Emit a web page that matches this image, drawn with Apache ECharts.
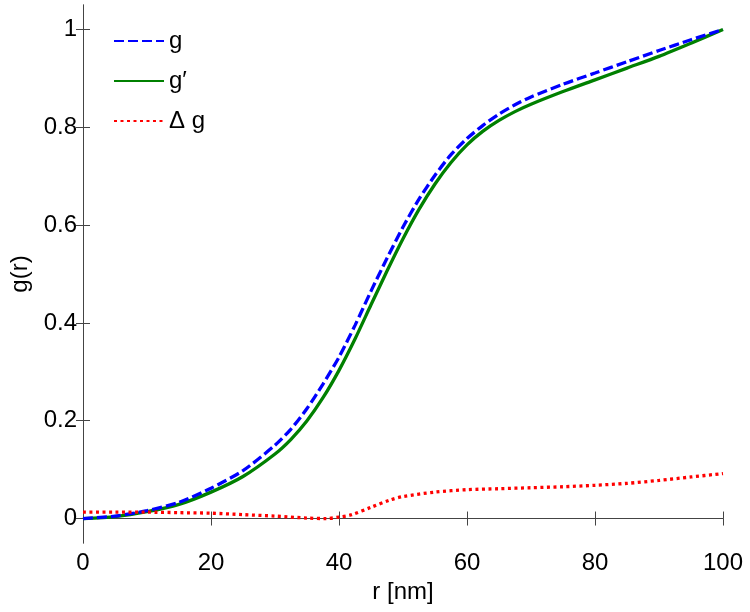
<!DOCTYPE html>
<html>
<head>
<meta charset="utf-8">
<script src="https://cdn.jsdelivr.net/npm/echarts@6/dist/echarts.min.js"></script>
<style>
  html, body { margin: 0; padding: 0; background: #fff; }
  #chart { width: 750px; height: 612px; }
</style>
</head>
<body>
<div id="chart"></div>
<script>
// r [nm] sample points
var rValues = [0, 5, 10, 15, 20, 25, 30, 32.5, 35, 37.5, 40, 42.5, 45, 47.5, 50, 52.5, 55, 57.5, 60, 62.5, 65, 67.5, 70, 75, 80, 85, 90, 95, 100];
// g (blue dashed)
var gValues = [0.000, 0.005, 0.016, 0.033, 0.062, 0.098, 0.150, 0.183, 0.225, 0.275, 0.330, 0.395, 0.465, 0.532, 0.596, 0.653, 0.702, 0.744, 0.777, 0.804, 0.827, 0.846, 0.862, 0.888, 0.911, 0.934, 0.957, 0.979, 1.000];
// g' (green solid)
var gPrimeValues = [0.000, 0.004, 0.014, 0.029, 0.054, 0.086, 0.132, 0.162, 0.200, 0.247, 0.303, 0.367, 0.437, 0.506, 0.572, 0.632, 0.684, 0.728, 0.764, 0.792, 0.814, 0.832, 0.847, 0.873, 0.897, 0.921, 0.945, 0.972, 1.000];
// delta g (red dotted)
var rDelta = [0, 5, 10, 15, 20, 25, 30, 35, 38, 40, 42, 45, 48, 50, 55, 60, 65, 70, 75, 80, 85, 90, 95, 100];
var deltaValues = [0.013, 0.013, 0.013, 0.012, 0.011, 0.008, 0.005, 0.001, 0.0, 0.003, 0.008, 0.023, 0.038, 0.045, 0.054, 0.059, 0.061, 0.063, 0.065, 0.068, 0.072, 0.078, 0.085, 0.092];
var yTicks = [0, 0.2, 0.4, 0.6, 0.8, 1];

function pairs(xs, ys) {
    var out = [];
    for (var i = 0; i < xs.length; i++) {
        out.push([xs[i], ys[i]]);
    }
    return out;
}

var fontFam = 'Liberation Sans, Arial, sans-serif';
var axisCol = '#444';

var myChart = echarts.init(document.getElementById('chart'));
myChart.setOption({
    animation: false,
    grid: { left: 82, top: 5, right: 27, bottom: 69 },
    legend: {
        left: 108,
        top: 24,
        orient: 'vertical',
        itemWidth: 50,
        itemHeight: 20,
        itemGap: 16,
        itemStyle: { opacity: 0 },
        textStyle: { fontFamily: fontFam, fontSize: 24, color: '#000' },
        data: ['g', 'g\u2032', '\u0394 g']
    },
    xAxis: [{
        type: 'value',
        min: 0,
        max: 100,
        interval: 20,
        position: 'bottom',
        name: 'r [nm]',
        nameLocation: 'middle',
        nameGap: 35,
        nameTextStyle: { fontFamily: fontFam, fontSize: 24, color: '#000' },
        axisLine: { show: true, lineStyle: { color: axisCol, width: 1 } },
        axisTick: { show: true, inside: true, length: 7, lineStyle: { color: axisCol } },
        axisLabel: { fontFamily: fontFam, fontSize: 24, color: '#000', margin: 8 },
        splitLine: { show: false }
    }, {
        type: 'value',
        min: 0,
        max: 100,
        interval: 20,
        position: 'top',
        axisLine: { show: true, lineStyle: { color: axisCol, width: 1 } },
        axisTick: { show: true, inside: true, length: 7, lineStyle: { color: axisCol } },
        axisLabel: { show: false },
        splitLine: { show: false }
    }],
    yAxis: [{
        type: 'value',
        min: -0.05,
        max: 1.05,
        position: 'left',
        name: 'g(r)',
        nameLocation: 'middle',
        nameGap: 51,
        nameTextStyle: { fontFamily: fontFam, fontSize: 24, color: '#000' },
        axisLine: { show: true, lineStyle: { color: axisCol, width: 1 } },
        axisTick: { show: true, inside: true, length: 7, customValues: yTicks, lineStyle: { color: axisCol } },
        axisLabel: { fontFamily: fontFam, fontSize: 24, color: '#000', margin: 6, customValues: yTicks },
        splitLine: { show: false }
    }, {
        type: 'value',
        min: -0.05,
        max: 1.05,
        position: 'right',
        axisLine: { show: true, lineStyle: { color: axisCol, width: 1 } },
        axisTick: { show: true, inside: true, length: 7, customValues: yTicks, lineStyle: { color: axisCol } },
        axisLabel: { show: false, customValues: yTicks },
        splitLine: { show: false }
    }],
    series: [{
        name: 'g',
        type: 'line',
        smooth: 0.25,
        showSymbol: false,
        symbol: 'none',
        color: '#0000ff',
        lineStyle: { color: '#0000ff', width: 3.3, type: [10, 4] },
        data: pairs(rValues, gValues),
        z: 3
    }, {
        name: 'g\u2032',
        type: 'line',
        smooth: 0.25,
        showSymbol: false,
        symbol: 'none',
        color: '#008000',
        lineStyle: { color: '#008000', width: 3.3, type: 'solid' },
        data: pairs(rValues, gPrimeValues),
        z: 2
    }, {
        name: '\u0394 g',
        type: 'line',
        smooth: 0.3,
        showSymbol: false,
        symbol: 'none',
        color: '#ff0000',
        lineStyle: { color: '#ff0000', width: 3.3, type: [3, 3.5] },
        data: pairs(rDelta, deltaValues),
        z: 4
    }]
});
</script>
</body>
</html>
